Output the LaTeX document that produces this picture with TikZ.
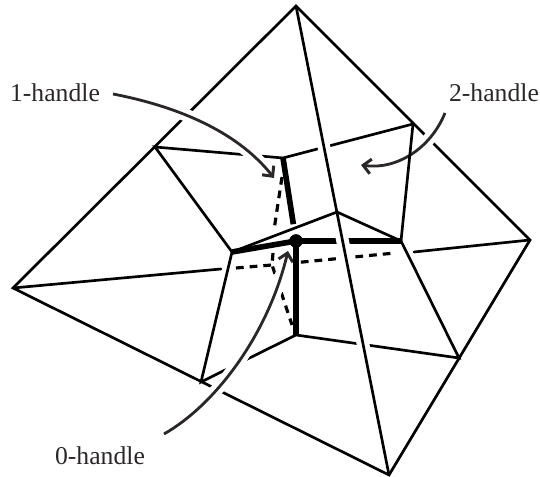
\documentclass[tikz,border=0pt]{standalone}
\usepackage{fontspec}
\setmainfont{Liberation Serif}
\usetikzlibrary{arrows.meta}
\definecolor{inkgray}{HTML}{2B2728}
\tikzset{
    edge/.style={line width=0.76pt, black, line cap=round},
    core/.style={line width=1.6pt, black},
    hidden/.style={line width=0.9pt, black, dash pattern=on 2.2pt off 1.7pt},
    halo/.style={preaction={draw=white, line width=3.6pt, -}},
    mask/.style={draw=white, line width=3.6pt, shorten <=0.5cm, shorten >=0.5cm},
    pointer/.style={line width=0.8pt, inkgray, -{Straight Barb[length=2.2pt,width=4.2pt,line width=0.85pt]}, halo},
    handle/.style={font=\fontsize{7.3}{9}\selectfont, text=inkgray, inner sep=0pt}
}
\begin{document}
\begin{tikzpicture}
    \useasboundingbox (0,0) rectangle (5.4,4.77);

    % Outer square
    \coordinate (T) at (2.96,4.71);
    \coordinate (R) at (5.30,2.37);
    \coordinate (B) at (3.89,0.02);
    \coordinate (L) at (0.13,1.89);

    % Vertices of the cell
    \coordinate (A) at (1.55,3.30);
    \coordinate (C) at (2.83,3.19);
    \coordinate (D) at (4.13,3.53);
    \coordinate (E) at (3.37,2.65);
    \coordinate (F) at (2.32,2.25);
    \coordinate (G) at (4.01,2.36);
    \coordinate (I) at (2.96,1.42);
    \coordinate (J) at (4.59,1.19);
    \coordinate (K) at (2.01,0.95);
    \node[circle, fill=black, inner sep=0pt, minimum size=3.8pt] (H) at (2.96,2.36) {};

    % Ends of the lines that go behind
    \coordinate (Lend) at (2.21,2.08);
    \coordinate (Rend) at (4.14,2.25);
    \coordinate (P) at (2.72,2.12);
    \coordinate (Pl) at (2.36,2.09);
    \coordinate (Pr) at (3.95,2.24);
    \coordinate (Pc) at (2.82,3.00);
    \coordinate (Pm) at (2.74,2.47);
    \coordinate (Pt) at (2.73,2.24);
    \coordinate (Pi) at (2.92,1.52);

    % Labels
    \node[handle] (one) at (0.55,3.84) {1-handle};
    \node[handle] (two) at (4.94,3.84) {2-handle};
    \node[handle] (zero) at (1.00,0.21) {0-handle};
    \coordinate (oneS) at (1.13,3.83);
    \coordinate (oneE) at (2.74,2.99);
    \coordinate (twoS) at (4.45,3.64);
    \coordinate (twoE) at (3.61,3.12);
    \coordinate (zeroS) at (1.64,0.43);
    \coordinate (zeroE) at (2.88,2.26);

    % Outer edges
    \draw[edge] (T) -- (L) -- (B) -- (R) -- cycle;
    \draw[edge] (L) -- (Lend);
    \draw[edge] (R) -- (Rend);

    % Thin edges
    \draw[edge] (C) -- (A) -- (F) -- (K) -- (I) -- (J) -- (G);
    \draw[edge] (C) -- (D);

    % Dashed part
    \draw[hidden] (Pl) -- (P);
    \draw[hidden, shorten <=0.29cm] (P) -- (Pr);
    \draw[hidden] (Pc) -- (Pm);
    \draw[hidden] (Pt) -- (P) -- (Pi);

    % Arrows
    \draw[pointer] (oneS) .. controls (1.85,3.69) and (2.40,3.42) .. (oneE);
    \draw[pointer] (twoS) .. controls (4.30,3.27) and (3.95,3.07) .. (twoE);
    \draw[pointer] (zeroS) .. controls (2.15,0.72) and (2.68,1.42) .. (zeroE);
    \draw[edge] (D) -- (G);

    % Thick edges
    \draw[core] (F) -- (H.center);
    \draw[core] (H.center) -- (G);
    \draw[core] (H.center) -- (I);
    \draw[core, shorten >=0.17cm] (C) -- (H.center);

    % Long edge in front
    \path[mask] (T) -- (B);
    \draw[edge] (T) -- (B);
    \draw[edge] (F) -- (E) -- (G);
    \fill[black] (H) circle (1.9pt);
\end{tikzpicture}
\end{document}
